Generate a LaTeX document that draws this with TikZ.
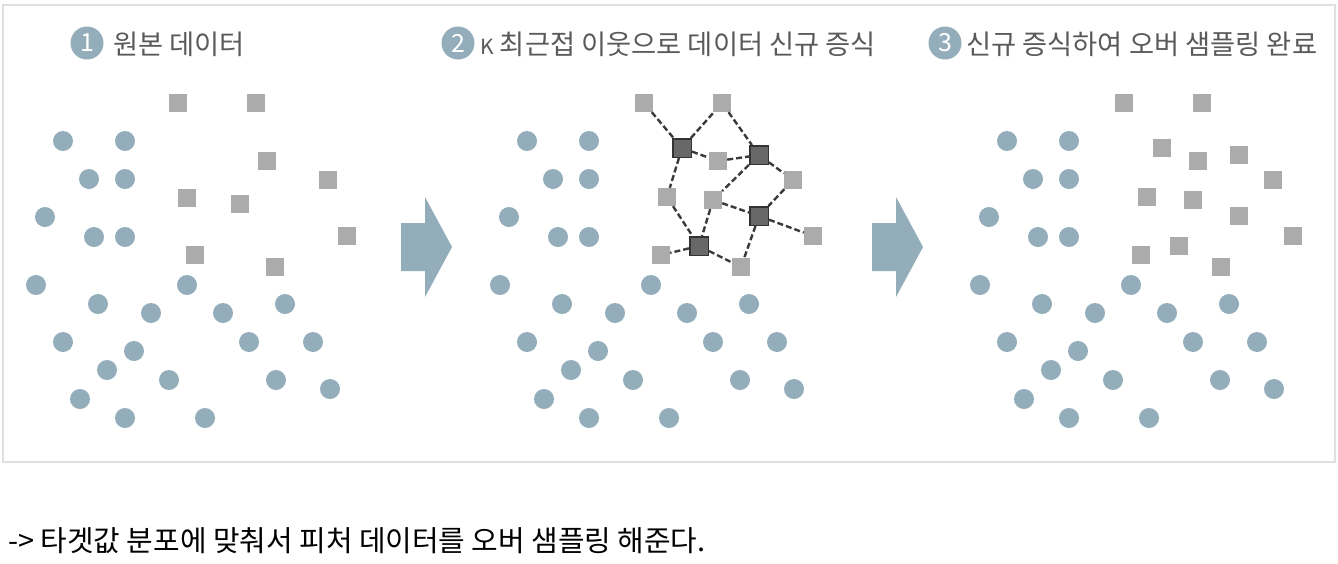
\documentclass[tikz,border=0pt]{standalone}
\usepackage{fontspec}
\setmainfont{Noto Sans CJK KR}
\definecolor{dotc}{HTML}{94ADBB}
\definecolor{sqc}{HTML}{ABABAB}
\definecolor{dkc}{HTML}{686868}
\definecolor{dkb}{HTML}{333333}
\definecolor{framec}{HTML}{E0E0E0}
\definecolor{headc}{HTML}{5A5A5A}
\definecolor{edgec}{HTML}{3A3A3A}
\tikzset{
  dot/.style={circle,fill=dotc,minimum size=20pt,inner sep=0pt},
  sq/.style={rectangle,fill=sqc,minimum size=18pt,inner sep=0pt},
  dk/.style={rectangle,fill=dkc,draw=dkb,line width=1.5pt,minimum size=18.5pt,inner sep=0pt},
  badge/.style={circle,fill=dotc,minimum size=33pt,inner sep=0pt,text=white,font=\fontsize{25}{25}\selectfont},
  head/.style={anchor=base west,inner sep=0pt,text=headc,font=\fontsize{27.3}{27.3}\selectfont},
  knn/.style={draw=edgec,line width=2.4pt,dash pattern=on 6pt off 3pt},
  bigarrow/.style={fill=dotc}
}
\begin{document}
\begin{tikzpicture}[x=1pt,y=-1pt]
\useasboundingbox (0,0) rectangle (1338,563);
\fill[white] (0,0) rectangle (1338,563);
\draw[framec,line width=2pt] (3,5) rectangle (1335,462);

% headers
\node[badge] (b1) at (87,43) {1};
\node[head] (h1) at (113,54) {원본 데이터};
\node[badge] (b2) at (458,43) {2};
\node[head] (h2) at (480,54) {{\fontsize{21}{21}\selectfont K} 최근접 이웃으로 데이터 신규 증식};
\node[badge] (b3) at (945,43) {3};
\node[head] (h3) at (966,54) {신규 증식하여 오버 샘플링 완료};

% circles in the three panels
\foreach \ox/\p in {0/1,464/2,944/3}{
  \foreach \x/\y [count=\i] in {63/141,125/141,89/179,125/179,45/217,94/237,125/237,36/285,98/304,151/313,187/285,223/313,285/304,63/342,134/351,249/342,313/342,107/370,169/380,276/380,330/389,80/399,125/418,205/418}{
    \node[dot] (c\p-\i) at (\x+\ox,\y) {};
  }
}

% panel 1 squares
\foreach \x/\y [count=\i] in {178/103,256/103,267/161,328/180,187/198,240/204,347/236,195/255,275/267}{
  \node[sq] (s1-\i) at (\x,\y) {};
}

% panel 2 squares
\node[sq] (a) at (644,103) {};
\node[sq] (b) at (722,103) {};
\node[sq] (m) at (718,161) {};
\node[sq] (r) at (793,180) {};
\node[sq] (l) at (667,197) {};
\node[sq] (c) at (713,200) {};
\node[sq] (rr) at (813,236) {};
\node[sq] (ll) at (661,255) {};
\node[sq] (bb) at (741,267) {};
\node[dk] (d1) at (682,148) {};
\node[dk] (d2) at (759,155) {};
\node[dk] (d3) at (759,216) {};
\node[dk] (d4) at (699,246) {};
\foreach \u/\v in {a/d1,d1/b,b/d2,d1/m,m/d2,d1/l,d2/r,d2/c,c/d3,r/d3,d3/rr,c/d4,l/d4,d4/ll,d4/bb,d3/bb}{
  \draw[knn] (\u) -- (\v);
}

% panel 3 squares
\foreach \x/\y [count=\i] in {1124/103,1202/103,1198/161,1273/180,1147/197,1193/200,1293/236,1141/255,1221/267,1162/148,1239/155,1239/216,1179/246}{
  \node[sq] (s3-\i) at (\x,\y) {};
}

% big arrows
\fill[bigarrow] (401,223) -- (425,223) -- (425,197) -- (452,247) -- (425,297) -- (425,271) -- (401,271) -- cycle;
\fill[bigarrow] (872,223) -- (896,223) -- (896,197) -- (923,247) -- (896,297) -- (896,271) -- (872,271) -- cycle;

% bottom note
\node[anchor=base west,inner sep=0pt,font=\fontsize{28.9}{28.9}\selectfont] (note) at (8,551) {-> 타겟값 분포에 맞춰서 피처 데이터를 오버 샘플링 해준다.};
\end{tikzpicture}
\end{document}
